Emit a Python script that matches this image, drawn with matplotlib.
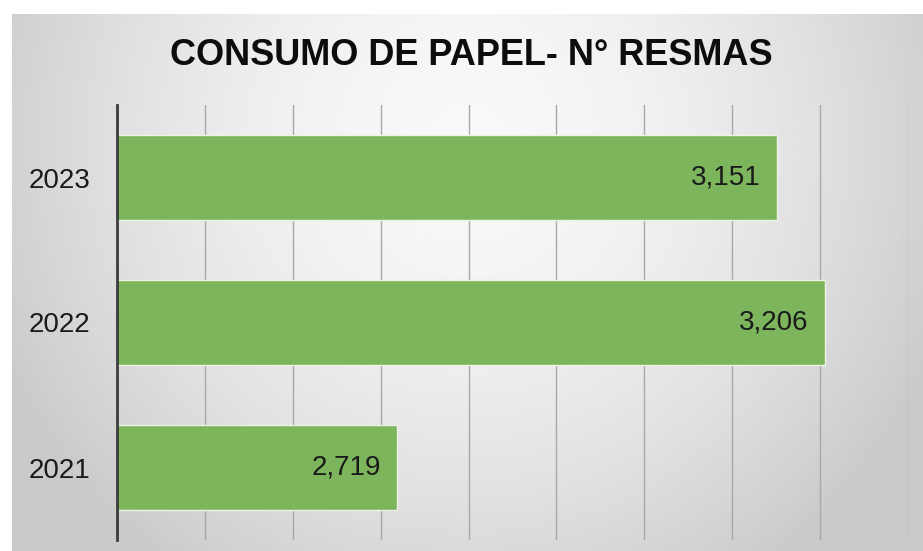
import numpy as np
import matplotlib; matplotlib.use('Agg')
import matplotlib.pyplot as plt

plt.rcParams['font.family'] = ['Liberation Sans', 'DejaVu Sans']

# ---- data ----
years = ['2021', '2022', '2023']
resmas = [2719, 3206, 3151]
x_ticks = [2400, 2500, 2600, 2700, 2800, 2900, 3000, 3100, 3200, 3300]

W, H = 923, 551
fig = plt.figure(figsize=(W / 100, H / 100), dpi=100)
fig.patch.set_facecolor('white')

# gray radial background behind the chart
bg = fig.add_axes([12 / W, 0, 1 - 12 / W, 1 - 14 / H])
bg.set_axis_off()
gx, gy = np.meshgrid(np.linspace(-1, 1, 400), np.linspace(-0.4, 1.25, 300))
r = np.sqrt(gx ** 2 + (gy * 0.7) ** 2)
shade = np.clip(0.975 - 0.15 * r ** 1.7, 0.79, 1.0)
bg.imshow(shade, cmap='gray', vmin=0, vmax=1, aspect='auto', extent=[0, 1, 0, 1], interpolation='bilinear')

ax = fig.add_axes([117 / W, 11 / H, (908 - 117) / W, (540 - 105) / H])
ax.patch.set_alpha(0)

bars = ax.barh(years, resmas, height=0.59, color='#7cb55c', edgecolor='#eef3e6', linewidth=1, zorder=3)
ax.set_xlim(x_ticks[0], x_ticks[-1])
ax.set_ylim(-0.5, len(years) - 0.5)
ax.set_xticks(x_ticks)
ax.set_xticklabels([])
ax.tick_params(axis='x', length=0)
ax.grid(axis='x', color='#a8a8a8', lw=1, zorder=1)

for side in ['top', 'right', 'bottom']:
    ax.spines[side].set_visible(False)
ax.spines['left'].set_color('#3c3c3c')
ax.spines['left'].set_linewidth(2)
ax.spines['left'].set_zorder(4)
ax.tick_params(axis='y', length=0, pad=19, labelsize=20, labelcolor='#1a1a1a')

for b, v in zip(bars, resmas):
    ax.annotate(f'{v:,}', xy=(v, b.get_y() + b.get_height() / 2), xytext=(-12, 0),
                textcoords='offset points', ha='right', va='center',
                fontsize=20, color='#1a1a1a', zorder=5)

fig.text(0.511, 0.90, 'CONSUMO DE PAPEL- N° RESMAS', ha='center', va='center',
         fontsize=26, fontweight='bold', color='#0d0d0d')

fig.savefig('out.png', dpi=100, facecolor=fig.get_facecolor())
